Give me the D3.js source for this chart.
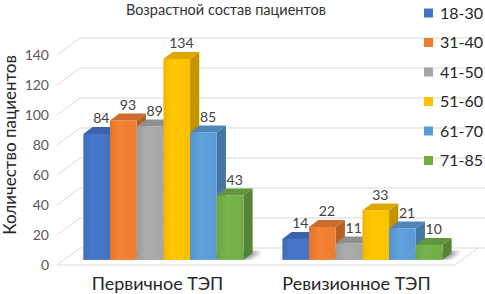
<!DOCTYPE html>
<html>
<head>
<meta charset="utf-8">
<script src="https://cdn.jsdelivr.net/npm/d3@7"></script>
<style>
  body { margin: 0; background: #fff; }
  svg { display: block; font-family: Lato, "Open Sans", sans-serif; }
</style>
</head>
<body>
<script>
const width = 485;
const height = 294;

// data
const categories = ["Первичное ТЭП", "Ревизионное ТЭП"];
const series = ["18-30", "31-40", "41-50", "51-60", "61-70", "71-85"];
const primaryValues = [84, 93, 89, 134, 85, 43];
const revisionValues = [14, 22, 11, 33, 21, 10];
const colors = ["#4472C4", "#ED7D31", "#A5A5A5", "#FFC000", "#5B9BD5", "#70AD47"];
const yTicks = [0, 20, 40, 60, 80, 100, 120, 140];
const title = "Возрастной состав пациентов";
const yTitle = "Количество пациентов";

const values = [primaryValues, revisionValues];

const svg = d3.select("body")
  .append("svg")
  .attr("width", width)
  .attr("height", height)
  .attr("viewBox", [0, 0, width, height]);

const defs = svg.append("defs");
defs.append("filter").attr("id", "blur")
  .append("feGaussianBlur").attr("stdDeviation", 2);

colors.forEach((c, i) => {
  const lg = defs.append("linearGradient").attr("id", "grad" + i)
    .attr("x1", 0).attr("x2", 1).attr("y1", 0).attr("y2", 0);
  lg.append("stop").attr("offset", 0).attr("stop-color", d3.color(c).darker(0.15));
  lg.append("stop").attr("offset", 0.35).attr("stop-color", d3.color(c).brighter(0.12));
  lg.append("stop").attr("offset", 1).attr("stop-color", c);
});

// scales (front plane, z = 0)
const x0 = d3.scaleBand().domain(categories).range([57, 455]);
const x1 = d3.scaleBand().domain(series).range([0, x0.bandwidth()]).paddingOuter(0.73);
const y = d3.scaleLinear().domain([0, 140]).range([265, 55]);

// depth offset: z from 0 (front) to 1 (back wall)
const depthX = 23, depthY = -17;
const P = (x, v, z) => [x + depthX * z, y(v) + depthY * z];
const poly = pts => "M" + pts.map(p => p.join(",")).join("L") + "Z";

const grid = svg.append("g").attr("fill", "none").attr("stroke", "#d9d9d9").attr("stroke-width", 1);

// gridlines on left wall and back wall
yTicks.forEach(t => {
  const a = P(57, t, 0), b = P(57, t, 1);
  grid.append("path").attr("d", `M${a}L${b}L${width + 10},${b[1]}`);
});
// floor front edge
{
  const a = P(57, 0, 0), b = P(455, 0, 0), c = P(455, 0, 1);
  grid.append("path").attr("d", `M${a}L${b}L${c}`);
}

// y tick labels
svg.append("g")
  .selectAll("text")
  .data(yTicks)
  .join("text")
  .attr("x", 49)
  .attr("y", d => y(d))
  .attr("dy", "0.35em")
  .attr("text-anchor", "end")
  .attr("font-size", 14)
  .attr("fill", "#595959")
  .text(d => d);

const z0 = 0.3, z1 = 0.7;

// shadows on the floor
categories.forEach((cat, ci) => {
  const xl = x0(cat) + x1(series[0]);
  const xr = x0(cat) + x1(series[series.length - 1]) + x1.bandwidth();
  svg.append("path")
    .attr("d", poly([P(xl - 3, 0, z0 + 0.05), P(xr + 4, 0, z0 + 0.05), P(xr + 6, 0, z1 + 0.1), P(xl - 1, 0, z1 + 0.1)]))
    .attr("fill", "#000")
    .attr("opacity", 0.45)
    .attr("filter", "url(#blur)");
});

// bars
const bars = svg.append("g");
categories.forEach((cat, ci) => {
  series.forEach((s, si) => {
    const v = values[ci][si];
    const xl = x0(cat) + x1(s);
    const xr = xl + x1.bandwidth();
    const c = d3.color(colors[si]);
    const g = bars.append("g");
    // side face
    g.append("path")
      .attr("d", poly([P(xr, 0, z0), P(xr, 0, z1), P(xr, v, z1), P(xr, v, z0)]))
      .attr("fill", c.darker(0.75));
    // top face
    g.append("path")
      .attr("d", poly([P(xl, v, z0), P(xr, v, z0), P(xr, v, z1), P(xl, v, z1)]))
      .attr("fill", c.darker(0.4));
    // front face
    const f0 = P(xl, v, z0), f1 = P(xr, 0, z0);
    g.append("rect")
      .attr("x", f0[0]).attr("y", f0[1])
      .attr("width", f1[0] - f0[0]).attr("height", f1[1] - f0[1])
      .attr("fill", `url(#grad${si})`);
    // value label
    const lp = P((xl + xr) / 2, v, (z0 + z1) / 2);
    g.append("text")
      .attr("x", lp[0])
      .attr("y", P(xl, v, z1)[1] - 4)
      .attr("text-anchor", "middle")
      .attr("font-size", 14)
      .attr("fill", "#404040")
      .text(v);
  });
});

// category labels
svg.append("g")
  .selectAll("text")
  .data(categories)
  .join("text")
  .attr("x", d => x0(d) + x0.bandwidth() / 2 + 1)
  .attr("y", 290)
  .attr("text-anchor", "middle")
  .attr("font-size", 18)
  .attr("fill", "#262626")
  .text(d => d);

// title
svg.append("text")
  .attr("x", 226)
  .attr("y", 15)
  .attr("text-anchor", "middle")
  .attr("font-size", 14.5)
  .attr("fill", "#333")
  .text(title);

// y axis title
svg.append("text")
  .attr("transform", "translate(16,145) rotate(-90)")
  .attr("text-anchor", "middle")
  .attr("font-size", 17)
  .attr("fill", "#262626")
  .text(yTitle);

// legend
const legend = svg.append("g")
  .selectAll("g")
  .data(series)
  .join("g")
  .attr("transform", (d, i) => `translate(424,${13 + i * 29.5})`);
legend.append("rect")
  .attr("x", 0).attr("y", -4.5)
  .attr("width", 9).attr("height", 9)
  .attr("fill", (d, i) => colors[i]);
legend.append("text")
  .attr("x", 16)
  .attr("dy", "0.36em")
  .attr("font-size", 16)
  .attr("fill", "#262626")
  .text(d => d);
</script>
</body>
</html>
